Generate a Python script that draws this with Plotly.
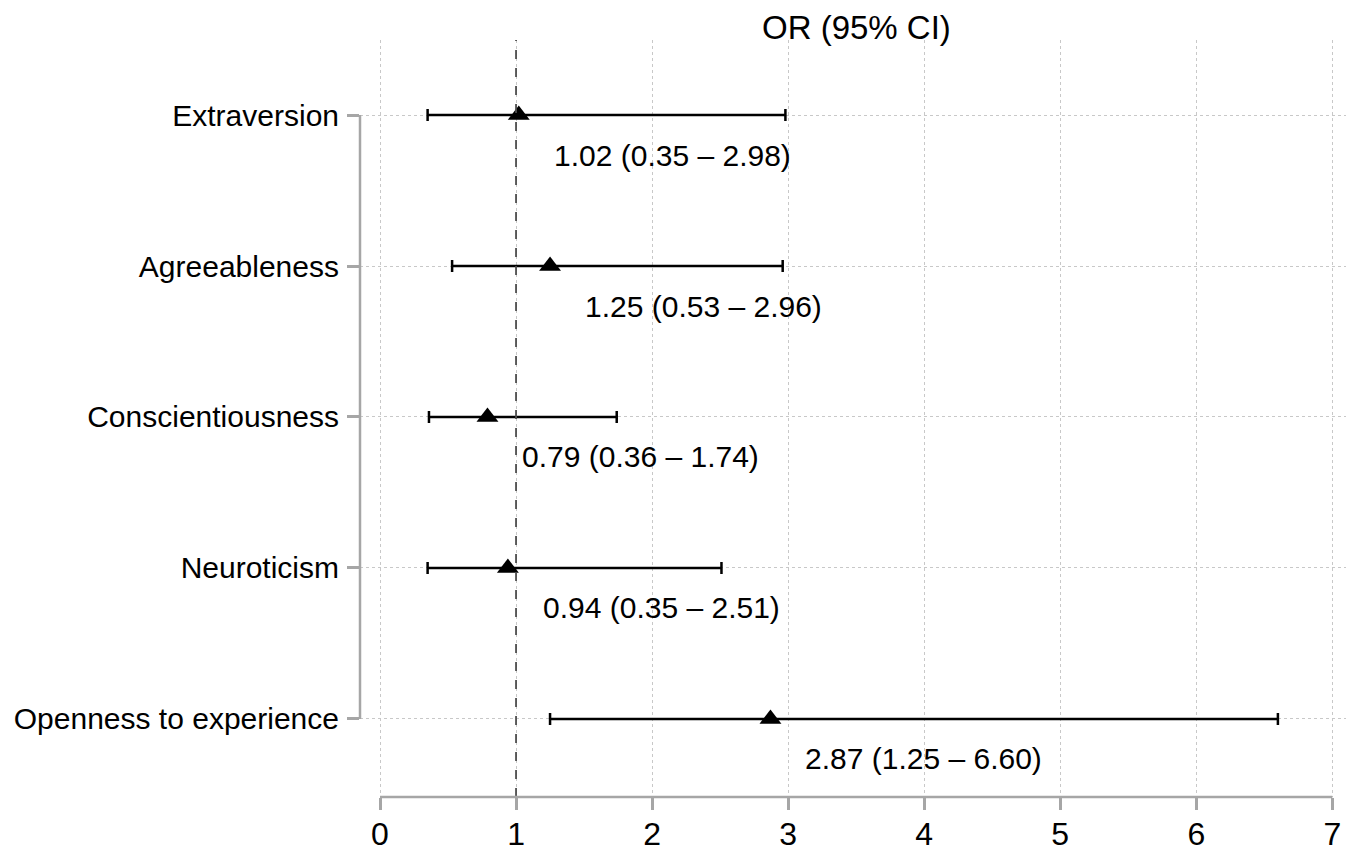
import plotly.graph_objects as go

categories = ["Extraversion", "Agreeableness", "Conscientiousness", "Neuroticism", "Openness to experience"]
or_vals = [1.02, 1.25, 0.79, 0.94, 2.87]
lower = [0.35, 0.53, 0.36, 0.35, 1.25]
upper = [2.98, 2.96, 1.74, 2.51, 6.60]
x_ticks = [0, 1, 2, 3, 4, 5, 6, 7]

FONT = "Liberation Sans, Arial, sans-serif"
AX = "#a6a6a6"
GRID = "#c8c8c8"

ypos = list(range(len(categories)))

fig = go.Figure()
fig.add_trace(go.Scatter(
    x=or_vals, y=ypos, mode="markers",
    marker=dict(symbol="triangle-up", size=19, color="black"),
    error_x=dict(type="data", symmetric=False,
                 array=[u - o for u, o in zip(upper, or_vals)],
                 arrayminus=[o - l for o, l in zip(or_vals, lower)],
                 color="black", thickness=2.5, width=6),
    showlegend=False, hoverinfo="skip",
))

for o, l, u, y in zip(or_vals, lower, upper, ypos):
    fig.add_annotation(x=o, y=y, xref="x", yref="y",
                       text=f"{o:.2f} ({l:.2f} \u2013 {u:.2f})",
                       showarrow=False, xanchor="left", yanchor="middle",
                       xshift=33, yshift=-40,
                       font=dict(family=FONT, size=30, color="black"))

fig.add_annotation(x=3.5, y=1, xref="x", yref="paper", text="OR (95% CI)",
                   showarrow=False, xanchor="center", yanchor="middle", yshift=13,
                   font=dict(family=FONT, size=33, color="black"))

# reference line at OR = 1
fig.add_shape(type="line", x0=1, x1=1, y0=0, y1=1, xref="x", yref="paper",
              line=dict(color="#4d4d4d", width=1.8, dash="dash"))
# x axis line from 0 to 7
fig.add_shape(type="line", x0=x_ticks[0], x1=x_ticks[-1], y0=0, y1=0, xref="x", yref="paper",
              line=dict(color=AX, width=2.5))
# y axis line spanning the categories
fig.add_shape(type="line", x0=0, x1=0, y0=ypos[0], y1=ypos[-1], xref="paper", yref="y",
              line=dict(color=AX, width=2.5))

fig.update_layout(
    width=1346, height=847,
    margin=dict(l=352, r=4, t=32, b=58),
    plot_bgcolor="white", paper_bgcolor="white",
    font=dict(family=FONT, color="black"),
    xaxis=dict(range=[-0.147, 7.13], tickvals=x_ticks, showline=False, zeroline=False,
               automargin=False,
               showgrid=True, gridcolor=GRID, griddash="dot", gridwidth=1,
               ticks="outside", ticklen=12, tickwidth=2.5, tickcolor=AX,
               ticklabelstandoff=-3,
               tickfont=dict(family=FONT, size=32, color="black")),
    yaxis=dict(range=[4.517, -0.497], tickvals=ypos, ticktext=categories,
               showline=False, zeroline=False, automargin=False,
               showgrid=True, gridcolor=GRID, griddash="dot", gridwidth=1,
               ticks="outside", ticklen=12, tickwidth=2.5, tickcolor=AX,
               ticklabelstandoff=2,
               tickfont=dict(family=FONT, size=30, color="black")),
)

fig.write_html("out.html")
